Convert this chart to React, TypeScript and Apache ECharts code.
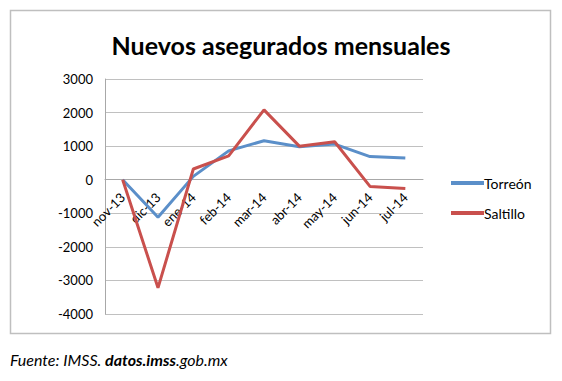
import React, { useEffect, useRef } from "react";
import * as echarts from "echarts";

const categories = ["nov-13", "dic-13", "ene-14", "feb-14", "mar-14", "abr-14", "may-14", "jun-14", "jul-14"];
const torreon = [0, -1120, 100, 860, 1160, 980, 1060, 690, 650];
const saltillo = [0, -3220, 320, 710, 2080, 1000, 1130, -200, -260];
const yTicks = { min: -4000, max: 3000, interval: 1000 };

const FONT = "Lato, 'Open Sans', sans-serif";

export default function App() {
  const ref = useRef<HTMLDivElement>(null);
  useEffect(() => {
    document.body.style.margin = "0";
    const chart = echarts.init(ref.current!, null, { renderer: "svg" });
    chart.setOption({
      animation: false,
      backgroundColor: "#ffffff",
      textStyle: { fontFamily: FONT },
      title: {
        text: "Nuevos asegurados mensuales",
        left: "center",
        top: 27,
        textStyle: { fontFamily: FONT, fontSize: 25, fontWeight: "bold", color: "#000" },
      },
      grid: { left: 105, right: 562 - 423, top: 79, bottom: 381 - 314, containLabel: false },
      legend: {
        orient: "vertical",
        left: 446,
        top: 171,
        itemWidth: 33,
        itemHeight: 4,
        itemGap: 16,
        icon: "rect",
        textStyle: { fontFamily: FONT, fontSize: 14, color: "#000", padding: [0, 0, 0, -5] },
        data: ["Torreón", "Saltillo"],
      },
      xAxis: {
        type: "category",
        data: categories,
        boundaryGap: true,
        offset: -(314 - 179),
        axisLine: { onZero: false, lineStyle: { color: "#a8a8a8", width: 1 } },
        axisTick: { show: false },
        axisLabel: { rotate: 45, fontFamily: FONT, fontSize: 13, color: "#000", margin: 16 },
      },
      yAxis: {
        type: "value",
        min: yTicks.min,
        max: yTicks.max,
        interval: yTicks.interval,
        axisLine: { show: true, lineStyle: { color: "#a8a8a8" } },
        axisTick: { show: false },
        splitLine: { lineStyle: { color: "#c0c0c0", width: 1 } },
        axisLabel: {
          fontFamily: FONT,
          fontSize: 13,
          color: "#000",
          margin: 12,
          formatter: (v: number) => String(v),
        },
      },
      series: [
        {
          name: "Torreón",
          type: "line",
          data: torreon,
          symbol: "none",
          lineStyle: { color: "#5B8FC9", width: 3 },
          itemStyle: { color: "#5B8FC9" },
        },
        {
          name: "Saltillo",
          type: "line",
          data: saltillo,
          symbol: "none",
          lineStyle: { color: "#C9504D", width: 3 },
          itemStyle: { color: "#C9504D" },
        },
      ],
      graphic: [
        {
          type: "rect",
          shape: { x: 10.5, y: 10.5, width: 540, height: 323 },
          style: { fill: "none", stroke: "#bfbfbf", lineWidth: 1.5 },
          silent: true,
        },
        {
          type: "text",
          left: 10,
          top: 351,
          style: {
            text: "{i|Fuente: IMSS. }{b|datos.imss}{i|.gob.mx}",
            rich: {
              i: { fontFamily: FONT, fontStyle: "italic", fontSize: 16, fill: "#000" },
              b: { fontFamily: FONT, fontStyle: "italic", fontWeight: "bold", fontSize: 16, fill: "#000" },
            },
          },
        },
      ],
    });
    return () => chart.dispose();
  }, []);
  return <div ref={ref} style={{ width: 562, height: 381 }} />;
}
